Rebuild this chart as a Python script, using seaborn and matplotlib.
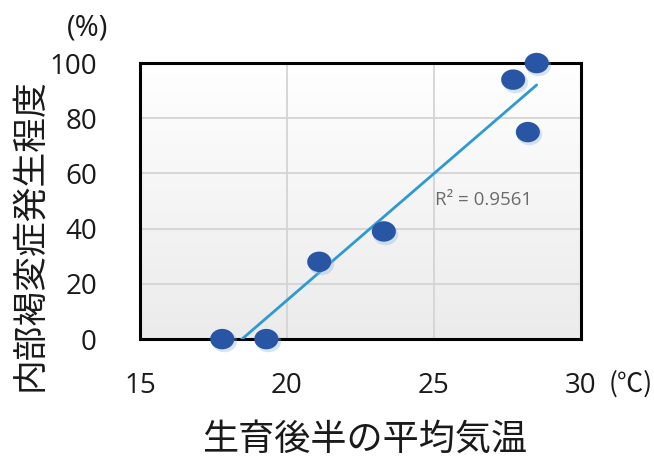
import numpy as np
import pandas as pd
import matplotlib
matplotlib.use("Agg")
import matplotlib.pyplot as plt
from matplotlib.path import Path
from matplotlib.colors import LinearSegmentedColormap
import seaborn as sns

# Data
temp = [17.8, 19.3, 21.1, 23.3, 27.7, 28.2, 28.5]
browning = [0, 0, 28, 39, 94, 75, 100]
x_ticks = [15, 20, 25, 30]
y_ticks = [0, 20, 40, 60, 80, 100]
r2_text = "R² = 0.9561"
xlabel = "生育後半の平均気温"
ylabel = "内部褐変症発生程度"

df = pd.DataFrame({"temp": temp, "browning": browning})

sns.set_theme(style="white")
plt.rcParams['font.family'] = ['Noto Sans CJK JP', 'DejaVu Sans']

fig = plt.figure(figsize=(6.54, 4.57), dpi=100)
ax = fig.add_axes([0.214, 0.258, 0.674, 0.604])

# gradient background
grad = np.linspace(0, 1, 256).reshape(-1, 1)
cmap = LinearSegmentedColormap.from_list("bg", ["#ebebeb", "#ffffff"])
ax.imshow(grad, extent=[0, 1, 0, 1], transform=ax.transAxes, cmap=cmap,
          aspect="auto", origin="lower", zorder=0)

# ellipse marker
t = np.linspace(0, 2 * np.pi, 60)
ell = Path(np.column_stack([np.cos(t), 0.85 * np.sin(t)]), closed=True)

# regression line
sns.regplot(data=df, x="temp", y="browning", ax=ax, ci=None, scatter=False,
            truncate=True, line_kws=dict(color="#2e9ad3", lw=2, zorder=3))
# soft shadow
ax.scatter(np.array(temp) + 0.05, np.array(browning) - 0.8, marker=ell, s=330,
           color="#8fb3dc", alpha=0.35, linewidths=0, zorder=3.5, clip_on=False)
sns.scatterplot(data=df, x="temp", y="browning", ax=ax, marker=ell, s=300,
                color="#2856a5", edgecolor="none", zorder=4, clip_on=False)

ax.set_xlim(15, 30)
ax.set_ylim(0, 100)
ax.set_xticks(x_ticks)
ax.set_yticks(y_ticks)
ax.grid(True, color="#d4d4d4", lw=1.3, zorder=1)
ax.set_axisbelow(True)
for s in ax.spines.values():
    s.set_color("black")
    s.set_linewidth(2.2)
    s.set_zorder(2)
ax.tick_params(axis="both", length=0, labelsize=20, colors="#1a1a1a")
ax.tick_params(axis="y", pad=31)
ax.tick_params(axis="x", pad=24)
for lab in ax.get_xticklabels() + ax.get_yticklabels():
    lab.set_family(['Open Sans', 'DejaVu Sans'])
ax.set_xlabel("")
ax.set_ylabel("")

ax.text(25.05, 50.4, r2_text, fontsize=13.5, color="#6b6b6b", zorder=5,
        va="center", family=['Open Sans', 'DejaVu Sans'])

fig.text(30 / 654, 1 - 235 / 457, ylabel, rotation=90, fontsize=25,
         ha="center", va="center", color="#1a1a1a")
fig.text(365 / 654, 1 - 440 / 457, xlabel, fontsize=26,
         ha="center", va="center", color="#1a1a1a")
fig.text(88 / 654, 1 - 28 / 457, "(%)", fontsize=21,
         ha="center", va="center", color="#1a1a1a",
         family=['Open Sans', 'DejaVu Sans'])
fig.text(631 / 654, 1 - 384 / 457, "(℃)", fontsize=19,
         ha="center", va="center", color="#1a1a1a")

fig.savefig("out.png", dpi=100)
